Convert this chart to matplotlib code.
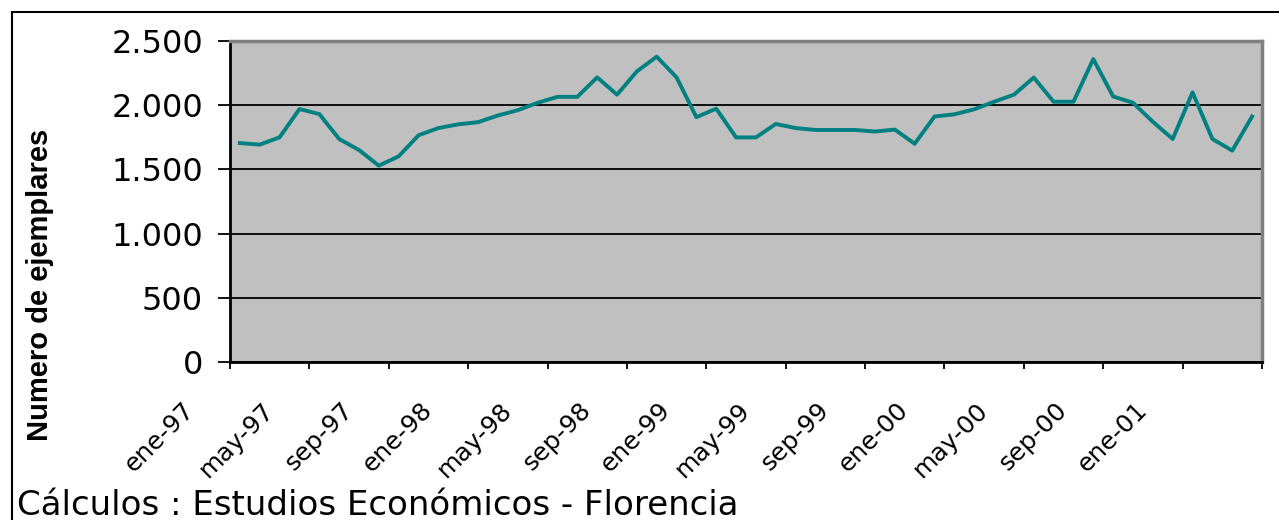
import matplotlib
matplotlib.use("Agg")
import matplotlib.pyplot as plt
import matplotlib.transforms as mtransforms
import numpy as np

# monthly circulation, ene-97 .. abr-01
ejemplares = [1705, 1693, 1750, 1970, 1931, 1737, 1651, 1529, 1602, 1766,
              1822, 1851, 1868, 1920, 1961, 2019, 2065, 2065, 2217, 2082,
              2263, 2378, 2217, 1907, 1973, 1749, 1749, 1854, 1822, 1807,
              1807, 1807, 1795, 1810, 1700, 1912, 1929, 1968, 2027, 2082,
              2215, 2027, 2027, 2359, 2068, 2019, 1871, 1737, 2100, 1737,
              1646, 1912]
mes_labels = ['ene-97', 'may-97', 'sep-97', 'ene-98', 'may-98', 'sep-98',
              'ene-99', 'may-99', 'sep-99', 'ene-00', 'may-00', 'sep-00',
              'ene-01']
y_ticks = [0, 500, 1000, 1500, 2000, 2500]
y_labels = ['0', '500', '1.000', '1.500', '2.000', '2.500']

fig = plt.figure(figsize=(12.79, 5.2), dpi=100)
ax = fig.add_axes([230/1279, 1 - 362/520, (1262 - 230)/1279, (362 - 41)/520])
ax.set_facecolor('#C0C0C0')

x = np.arange(len(ejemplares))
ax.plot(x, ejemplares, color='#008080', lw=2.8, zorder=3)

ax.set_xlim(-0.5, len(ejemplares) - 0.5)
ax.set_ylim(0, 2500)
ax.set_yticks(y_ticks)
ax.set_yticklabels(y_labels, fontsize=23)
ax.yaxis.grid(True, color='black', lw=1.3)
ax.set_axisbelow(True)

ticks = np.arange(-0.5, len(ejemplares), 4)
ax.set_xticks(ticks)
ax.set_xticklabels([])

# month labels: rotated, shifted left/down from their tick like the original
trans = mtransforms.blended_transform_factory(ax.transData, ax.transAxes) + \
    mtransforms.ScaledTranslation(-0.31, -0.36, fig.dpi_scale_trans)
for t, lab in zip(ticks, mes_labels):
    ax.text(t, 0, lab, transform=trans, rotation=45, ha='right', va='top',
            fontsize=18)

ax.tick_params(axis='y', direction='out', length=8.5, width=1.3, pad=11)
ax.tick_params(axis='x', direction='out', length=5, width=1.3, pad=0)

for s in ['left', 'bottom']:
    ax.spines[s].set_color('black')
    ax.spines[s].set_linewidth(2)
for s in ['top', 'right']:
    ax.spines[s].set_color('#808080')
    ax.spines[s].set_linewidth(2.5)

fig.text(40/1279, 1 - 285/520, 'Numero de ejemplares', rotation=90,
         ha='center', va='center', fontsize=21, fontweight='bold',
         family='Liberation Sans')
fig.text(17/1279, 5/520, 'Cálculos : Estudios Económicos - Florencia',
         fontsize=24.5, ha='left', va='baseline')

fig.patches.append(plt.Rectangle((12/1279, -0.2), 1.2, 1.2 - 12/520,
                                 transform=fig.transFigure, fill=False,
                                 lw=1.5, ec='black'))

fig.savefig('out.png', dpi=100)
